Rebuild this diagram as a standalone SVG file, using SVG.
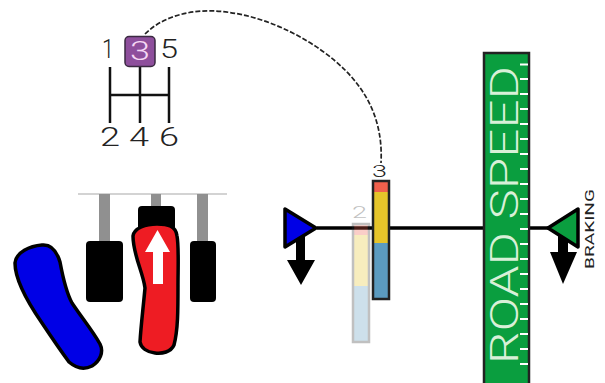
<svg xmlns="http://www.w3.org/2000/svg" width="605" height="383" viewBox="0 0 605 383">
<style>
text{font-family:"Roboto","Liberation Sans",Arial,sans-serif;font-weight:300}
.n{font-size:25px;fill:#222}
.s{fill:none;stroke:#111;stroke-width:2.500}
.ol{stroke:#000;stroke-width:3.5;stroke-linejoin:round}
.g{fill:#909090}
.b{fill:#000}
</style>
<rect width="605" height="383" fill="#fff"/>
<g id="connectors">
<path d="M145,34C165,14 195,10 215,11C270,14 320,45 345,70C370,95 383,125 381,163" fill="none" stroke="#222" stroke-width="1.700" stroke-dasharray="5 2"/>
<path d="M317,228H548" fill="none" stroke="#000" stroke-width="3.5"/>
</g>
<g id="shifter">
<path class="s" d="M110,67V123M140,67V123M169,67V123M110,95H169"/>
<text class="n" x="102" y="58" textLength="12" lengthAdjust="spacingAndGlyphs">1</text>
<text class="n" x="160" y="58" textLength="18" lengthAdjust="spacingAndGlyphs">5</text>
<text class="n" x="100" y="146" textLength="20" lengthAdjust="spacingAndGlyphs">2</text>
<text class="n" x="129" y="146" textLength="20" lengthAdjust="spacingAndGlyphs">4</text>
<text class="n" x="159" y="146" textLength="20" lengthAdjust="spacingAndGlyphs">6</text>
</g>
<g id="gear-3">
<rect x="125" y="36.500" width="30" height="30" rx="4" fill="#8e4f9c" stroke="#3a2a40" stroke-width="1.500"/>
<text x="130" y="60" font-size="25" fill="#f6d8f4" textLength="20" lengthAdjust="spacingAndGlyphs">3</text>
</g>
<g id="pedal-rail">
<path d="M78,194H227" stroke="#c4c4c4" stroke-width="1.500" fill="none"/>
<rect class="g" x="99" y="194" width="11" height="48"/>
<rect class="g" x="151" y="194" width="10" height="14"/>
<rect class="g" x="197" y="194" width="11" height="48"/>
</g>
<g id="pedal-left"><rect class="b" x="86" y="241" width="37" height="61" rx="4"/></g>
<g id="pedal-right"><rect class="b" x="190" y="241" width="26" height="61" rx="4"/></g>
<g id="pedal-top"><rect class="b" x="138" y="206" width="37" height="30" rx="4"/></g>
<g id="pedal-red">
<path class="ol" fill="#ee1c23" d="M133,236C134,228 146,224 157,224C168,224 176,226 177,236C179,246 178,270 178,285C178,310 178,330 174,345C171,352 162,354 155,353C147,352 141,348 140,342C141,325 143,310 145,288C143,272 133,255 133,236Z"/>
<path fill="#fff" d="M157.500,230L170,252H163V284H153V252H145Z"/>
</g>
<g id="pedal-blue">
<path class="ol" fill="#0000e6" d="M15,263C16,252 30,246 42,245C52,244 57,252 60,262C63,278 66,292 72,303C82,318 92,330 100,344C104,352 100,361 92,366C84,370 76,368 69,362C58,347 50,335 42,323C33,310 15,282 15,263Z"/>
</g>
<g id="gear-bar-2" opacity="0.3">
<rect x="353" y="224" width="16" height="118" fill="#5b9bc0"/>
<rect x="353" y="224" width="16" height="11" fill="#f0604c"/>
<rect x="353" y="235" width="16" height="51" fill="#e6c42a"/>
<rect x="353" y="224" width="16" height="118" fill="none" stroke="#333" stroke-width="2.500"/>
<text x="352" y="218" font-size="17" fill="#333" textLength="15" lengthAdjust="spacingAndGlyphs">2</text>
</g>
<g id="gear-bar-3">
<rect x="373" y="181" width="16" height="118" fill="#5b9bc0"/>
<rect x="373" y="181" width="16" height="11" fill="#f0604c"/>
<rect x="373" y="192" width="16" height="51" fill="#e6c42a"/>
<rect x="373" y="181" width="16" height="118" fill="none" stroke="#222" stroke-width="2.500"/>
<text x="372" y="177" font-size="17" fill="#222" textLength="15" lengthAdjust="spacingAndGlyphs">3</text>
</g>
<g id="throttle-marker">
<path class="b" d="M296,228H305V260H315L301,285L287,260H296Z"/>
<path class="ol" fill="#0000e6" d="M285,209V247L316,228Z"/>
</g>
<g id="road-speed">
<rect x="484" y="53" width="45" height="332" fill="#0a9e3f" stroke="#222" stroke-width="2.500"/>
<text transform="translate(518,364) rotate(-90)" font-size="38" fill="#d8f0d8" textLength="298" lengthAdjust="spacingAndGlyphs">ROAD SPEED</text>
<path d="M520,64.500H528M520,79H528M520,94H528M520,109H528M520,124H528M520,139H528M520,154H528M520,169H528M520,184H528M520,199H528M520,214H528M520,229H528M520,244H528M520,259H528M520,274H528M520,289H528M520,304H528M520,319H528M520,334H528M520,349H528M520,364H528" stroke="#fff" stroke-width="2" fill="none"/>
</g>
<g id="braking-marker">
<path class="b" d="M558,228H568V252H577L563,284L550,252H558Z"/>
<path class="ol" fill="#0a9e3f" d="M578,209V247L548,228Z"/>
<text transform="translate(594,269) rotate(-90)" font-size="13" fill="#222" style="font-weight:400" textLength="80" lengthAdjust="spacingAndGlyphs">BRAKING</text>
</g>
</svg>
